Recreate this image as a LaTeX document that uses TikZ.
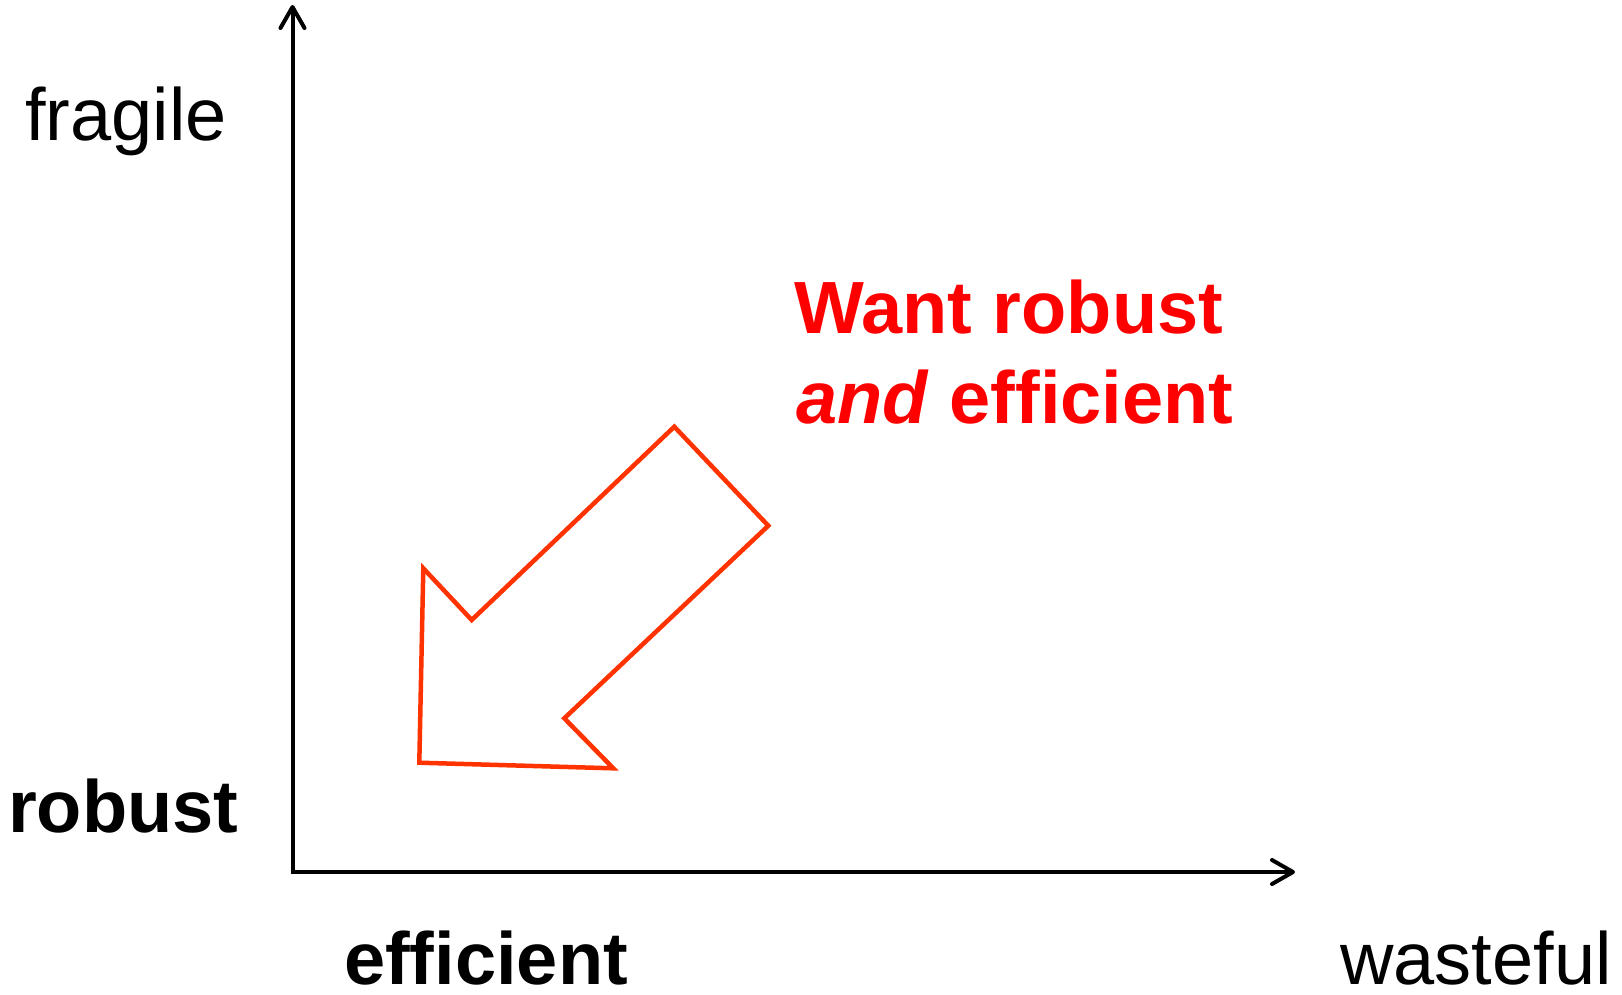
\documentclass[tikz,border=0pt]{standalone}
\usepackage{fontspec}
\setmainfont{Liberation Sans}[Ligatures=NoCommon]
\usetikzlibrary{arrows.meta}
\definecolor{wantred}{HTML}{FF0000}
\definecolor{arroworange}{HTML}{FF3300}
\tikzset{
  axis/.style={line width=4pt, -{Straight Barb[length=21pt,width=24pt,round]}},
  lbl/.style={anchor=base west, inner sep=0pt, font=\fontsize{74}{90}\selectfont},
  lblb/.style={lbl, font=\fontsize{74}{90}\selectfont\bfseries},
  redtxt/.style={lbl, text=wantred, font=\fontsize{74}{90}\selectfont\bfseries},
  bigarrow/.style={draw=arroworange, line width=4.5pt, line join=miter}
}
\begin{document}
\begin{tikzpicture}[x=1pt,y=-1pt]
\useasboundingbox (0,0) rectangle (1622,994);
\coordinate (origin) at (292.5,874);
\coordinate (ytop) at (292.5,5);
\coordinate (xstart) at (292.5,872);
\coordinate (xend) at (1295,872);
\draw[axis] (origin) -- (ytop);
\draw[axis] (xstart) -- (xend);
\node[lbl] (fragile) at (25,140.7) {fragile};
\node[lblb] (robust) at (8,832) {robust};
\node[lblb] (efficient) at (344,984) {efficient};
\node[lbl] (wasteful) at (1340,984) {wasteful};
\node[redtxt] (want1) at (794,333) {Want robust};
\node[redtxt] (want2) at (796,423.5) {\textit{and} efficient};
\draw[bigarrow] (674.3,426.7) -- (768.3,525.7) -- (564.3,718.3) -- (613.3,768.3)
  -- (419.3,762.7) -- (423.3,568.3) -- (471.7,620) -- cycle;
\end{tikzpicture}
\end{document}
